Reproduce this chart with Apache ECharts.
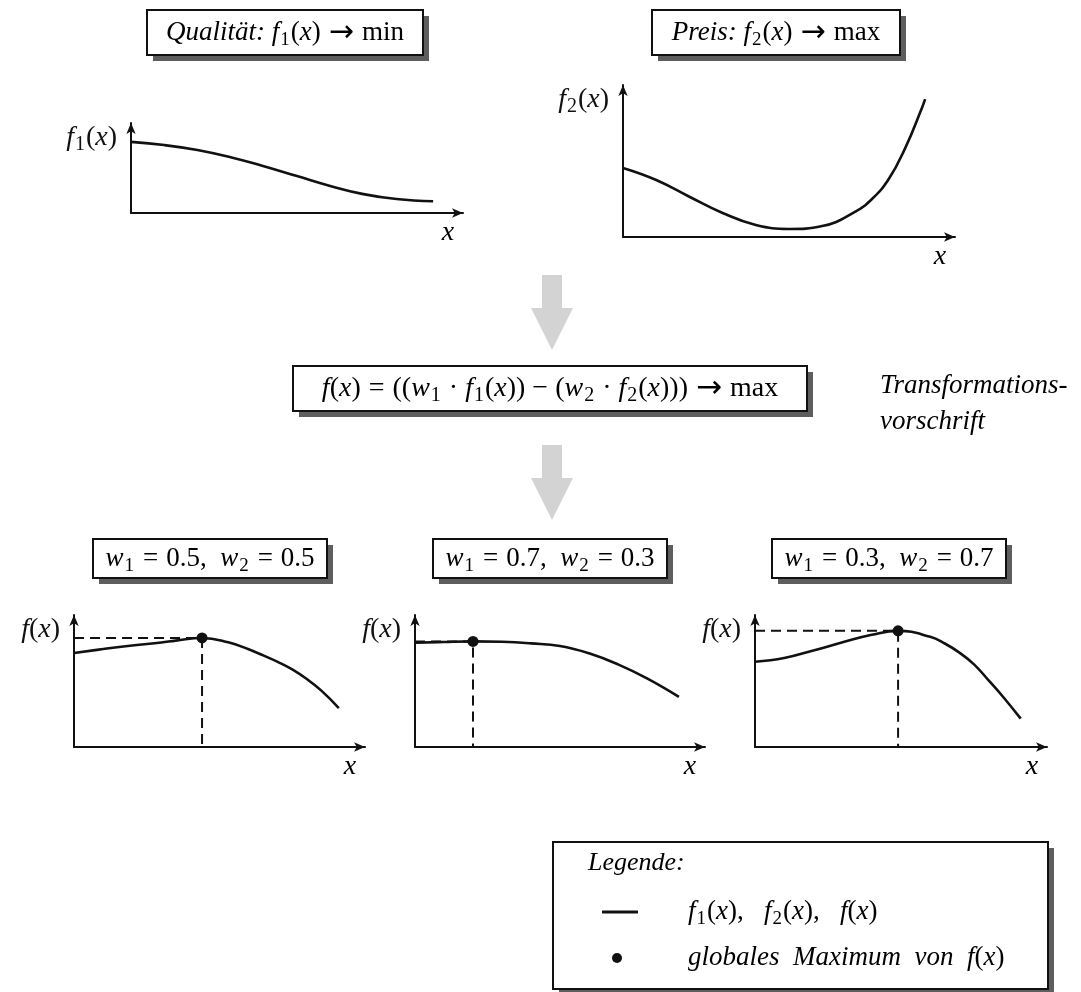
<!DOCTYPE html>
<html>
<head>
<meta charset="utf-8">
<script src="https://cdn.jsdelivr.net/npm/echarts@6/dist/echarts.min.js"></script>
<style>
html,body{margin:0;padding:0;background:#fff}
#main{width:1081px;height:992px}
</style>
</head>
<body>
<div id="main"></div>
<script>
// Qualitaet f1(x)
var f1Data = [[0,7.9],[1,7.55],[2,7.0],[3,6.2],[4,5.2],[5,4.1],[6,3.0],[7,2.1],[8,1.55],[9.1,1.3]];
// Preis f2(x)
var f2Data = [[0,4.54],[1,3.75],[2,2.65],[3,1.58],[4,0.79],[5,0.53],[6,0.72],[7,1.67],[7.5,2.5],[8,3.8],[8.5,5.85],[9,8.47],[9.1,9.07]];
// Gewichtungen w1, w2 und das Ergebnis f(x)
var weights = [[0.5,0.5],[0.7,0.3],[0.3,0.7]];
var fData = [
	[[0,7.12],[1,7.42],[2,7.69],[3,7.92],[3.5,8.06],[4.4,8.26],[5.3,7.93],[6,7.4],[6.5,6.94],[7,6.45],[7.5,5.88],[8,5.15],[8.5,4.27],[9.1,2.95]],
	[[0,7.9],[1,7.96],[2,8.0],[3,7.97],[4,7.85],[5,7.65],[6,7.1],[7,6.26],[8,5.2],[9.1,3.8]],
	[[0,6.46],[1,6.74],[2,7.31],[3,7.93],[4,8.5],[4.9,8.8],[6,8.35],[6.5,7.84],[7,7.15],[7.5,6.26],[8,5.05],[8.5,3.79],[9.1,2.15]]
];

var FF = 'Liberation Serif';
var C = '#111';

function richSet(size) {
	return {
		it : { fontFamily : FF, fontStyle : 'italic', fontSize : size, lineHeight : size + 6, color : C },
		n : { fontFamily : FF, fontSize : size, lineHeight : size + 6, color : C },
		s : { fontFamily : FF, fontSize : Math.round(size * 0.7), verticalAlign : 'bottom', color : C, padding : [ 0, 1, 0, 1 ] },
		rel : { fontFamily : FF, fontSize : size, lineHeight : size + 6, color : C, padding : [ 0, 8, 0, 8 ] },
		bin : { fontFamily : FF, fontSize : size, lineHeight : size + 6, color : C, padding : [ 0, 7, 0, 7 ] },
		ar : { fontFamily : 'DejaVu Sans', fontSize : size + 3, lineHeight : size + 6, color : C, padding : [ 0, 8, 0, 8 ] }
	};
}

var grids = [
	{ left : 131, top : 123, width : 332, height : 90 },
	{ left : 623, top : 85, width : 332, height : 152 },
	{ left : 74, top : 615, width : 291, height : 132 },
	{ left : 415, top : 615, width : 290, height : 132 },
	{ left : 755, top : 615, width : 292, height : 132 }
];
var yNames = [
	'{it|f}{s|1}{n|(}{it|x}{n|)}',
	'{it|f}{s|2}{n|(}{it|x}{n|)}',
	'{it|f}{n|(}{it|x}{n|)}',
	'{it|f}{n|(}{it|x}{n|)}',
	'{it|f}{n|(}{it|x}{n|)}'
];

var axisLine = {
	show : true,
	onZero : false,
	symbol : [ 'none', 'arrow' ],
	symbolSize : [ 7, 11 ],
	lineStyle : { color : C, width : 2 }
};

var xAxes = [], yAxes = [], series = [];
for (var i = 0; i < grids.length; i++) {
	xAxes.push({
		type : 'value', gridIndex : i, min : 0, max : 10,
		axisLine : axisLine, axisTick : { show : false }, axisLabel : { show : false }, splitLine : { show : false }
	});
	yAxes.push({
		type : 'value', gridIndex : i, min : 0, max : 10,
		axisLine : axisLine, axisTick : { show : false }, axisLabel : { show : false }, splitLine : { show : false },
		name : yNames[i], nameLocation : 'end', nameGap : -15,
		nameTextStyle : { align : 'right', verticalAlign : 'middle', padding : [ 0, 14, 0, 0 ], rich : richSet(28) }
	});
}

function curve(gi, data) {
	return {
		type : 'line', xAxisIndex : gi, yAxisIndex : gi, data : data,
		smooth : 0.45, showSymbol : false, silent : true, z : 3,
		lineStyle : { color : C, width : 2.6 }
	};
}

series.push(curve(0, f1Data));
series.push(curve(1, f2Data));

for (var k = 0; k < fData.length; k++) {
	var gi = k + 2;
	var best = fData[k].reduce(function(a, b) { return b[1] > a[1] ? b : a; });
	series.push({
		type : 'line', xAxisIndex : gi, yAxisIndex : gi,
		data : [ [ 0, best[1] ], [ best[0], best[1] ], [ best[0], 0 ] ],
		showSymbol : false, silent : true, z : 2,
		lineStyle : { color : C, width : 2, type : [ 10, 6 ] }
	});
	series.push(curve(gi, fData[k]));
	series.push({
		type : 'scatter', xAxisIndex : gi, yAxisIndex : gi, data : [ best ],
		symbolSize : 11, z : 4, silent : true, itemStyle : { color : C, opacity : 1 }
	});
}

function box(x, y, w, h) {
	return [ {
		type : 'rect', shape : { x : x + 6, y : y + 6, width : w, height : h },
		style : { fill : '#5e5e5e' }
	}, {
		type : 'rect', shape : { x : x, y : y, width : w, height : h },
		style : { fill : '#fff', stroke : C, lineWidth : 2 }
	} ];
}

function label(x, y, text, size, align) {
	return {
		type : 'text', x : x, y : y, z : 10,
		style : { text : text, align : align || 'center', verticalAlign : 'middle', rich : richSet(size) }
	};
}

function downArrow(cx, top) {
	return {
		type : 'polygon',
		shape : { points : [ [ cx - 10, top ], [ cx + 10, top ], [ cx + 10, top + 33 ], [ cx + 21, top + 33 ],
			[ cx, top + 75 ], [ cx - 21, top + 33 ], [ cx - 10, top + 33 ] ] },
		style : { fill : '#d3d3d3' }
	};
}

var graphic = [];
graphic = graphic.concat(box(147, 10, 276, 45));
graphic.push(label(285, 33, '{it|Qualität: f}{s|1}{n|(}{it|x}{n|)}{ar|→}{n|min}', 27));
graphic = graphic.concat(box(652, 10, 248, 45));
graphic.push(label(776, 33, '{it|Preis: f}{s|2}{n|(}{it|x}{n|)}{ar|→}{n|max}', 27));

graphic.push(downArrow(552, 275));
graphic = graphic.concat(box(293, 366, 514, 45));
graphic.push(label(550, 389, '{it|f}{n|(}{it|x}{n|)}{rel|=}{n|((}{it|w}{s|1}{bin|·}{it|f}{s|1}{n|(}{it|x}{n|))}{bin|−}{n|(}{it|w}{s|2}{bin|·}{it|f}{s|2}{n|(}{it|x}{n|)))}{ar|→}{n|max}', 28));
graphic.push(label(880, 386, '{it|Transformations-}', 27, 'left'));
graphic.push(label(880, 422, '{it|vorschrift}', 27, 'left'));
graphic.push(downArrow(552, 445));

var boxX = [ 93, 433, 772 ];
for (var b = 0; b < weights.length; b++) {
	graphic = graphic.concat(box(boxX[b], 539, 234, 39));
	graphic.push(label(boxX[b] + 117, 559,
		'{it|w}{s|1}{rel|=}{n|' + weights[b][0] + ',  }{it|w}{s|2}{rel|=}{n|' + weights[b][1] + '}', 27));
}

// Legende
graphic = graphic.concat(box(553, 842, 495, 147));
graphic.push(label(588, 863, '{it|Legende:}', 26, 'left'));
graphic.push({ type : 'line', shape : { x1 : 602, y1 : 912, x2 : 638, y2 : 912 }, style : { stroke : C, lineWidth : 3 } });
graphic.push(label(688, 912, '{it|f}{s|1}{n|(}{it|x}{n|),   }{it|f}{s|2}{n|(}{it|x}{n|),   }{it|f}{n|(}{it|x}{n|)}', 27, 'left'));
graphic.push({ type : 'circle', shape : { cx : 617, cy : 958, r : 5 }, style : { fill : C } });
graphic.push(label(688, 958, '{it|globales  Maximum  von  f}{n|(}{it|x}{n|)}', 27, 'left'));

var chart = echarts.init(document.getElementById('main'));
chart.setOption({
	animation : false,
	backgroundColor : '#fff',
	grid : grids,
	xAxis : xAxes,
	yAxis : yAxes,
	series : series,
	graphic : graphic
});

// x-Beschriftung unter der Pfeilspitze jeder Achse
for (var g = 0; g < grids.length; g++) {
	var tip = chart.convertToPixel({ gridIndex : g }, [ 10, 0 ]);
	graphic.push(label(tip[0] - 15, tip[1] + 20, '{it|x}', 28));
}
chart.setOption({ graphic : graphic });
</script>
</body>
</html>
